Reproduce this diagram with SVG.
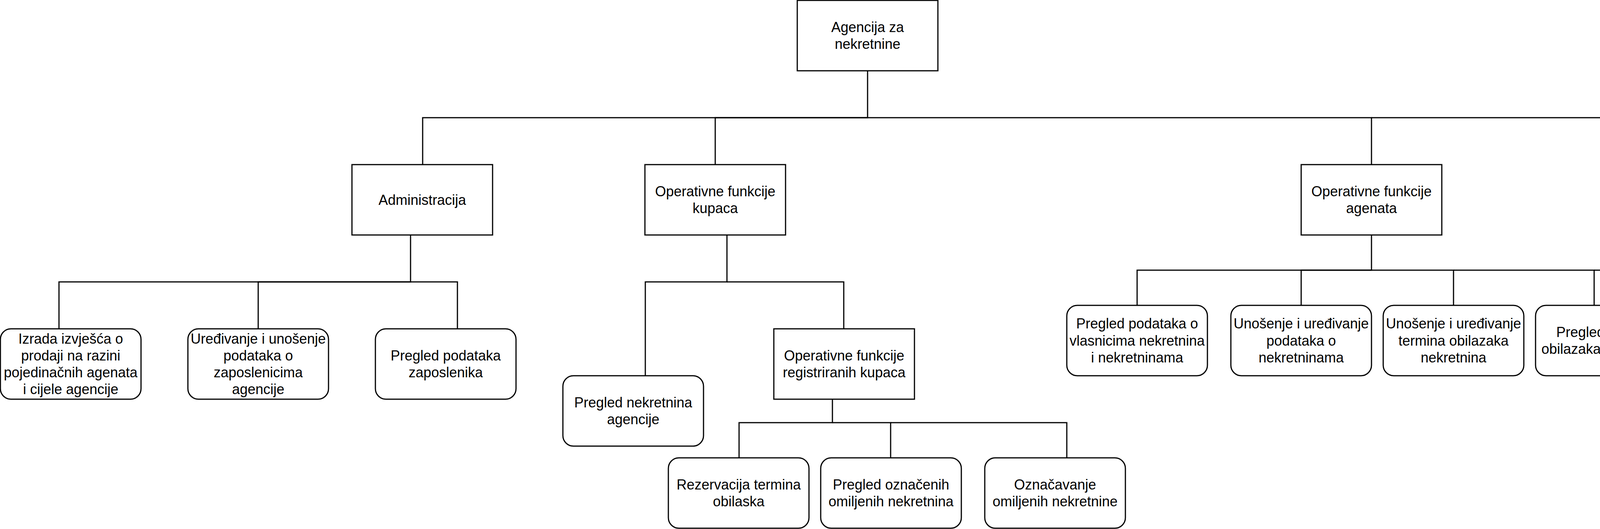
<svg xmlns="http://www.w3.org/2000/svg" width="6003" height="1353" viewBox="0 0 6003 1353">
<style>
.n{fill:#fff;stroke:#000;stroke-width:3}
.t{font-family:"Liberation Sans",Arial,Helvetica,sans-serif;font-size:36px;fill:#000;text-anchor:middle}
.e{fill:none;stroke:#000;stroke-width:3;stroke-linejoin:miter}
</style>
<rect x="0" y="0" width="6003" height="1353" fill="#fff"/>
<g id="connectors">
<path class="e" d="M2221 181V301H1082V421"/>
<path class="e" d="M2221 301H1831V421"/>
<path class="e" d="M2221 301H3511V421"/>
<path class="e" d="M3511 301H5401V421"/>
<path class="e" d="M1051 601V721H151V841"/>
<path class="e" d="M1051 721H661V841"/>
<path class="e" d="M1051 721H1171V841"/>
<path class="e" d="M1861 601V721H1652V961"/>
<path class="e" d="M1861 721H2160V841"/>
<path class="e" d="M2131 1021V1081H1892V1171"/>
<path class="e" d="M2131 1081H2280V1171"/>
<path class="e" d="M2280 1081H2731V1171"/>
<path class="e" d="M3511 601V691H2911V781"/>
<path class="e" d="M3511 691H3331V781"/>
<path class="e" d="M3511 691H3721V781"/>
<path class="e" d="M3721 691H4081V781"/>
<path class="e" d="M4081 691H4531V781"/>
<path class="e" d="M5401 601V691H5071V781"/>
<path class="e" d="M5401 691H5821V781"/>
</g>
<g id="root"><rect class="n" x="2041" y="1" width="360" height="180"/><text class="t" y="81.9"><tspan x="2221">Agencija za</tspan><tspan x="2221" dy="43.2">nekretnine</tspan></text></g>
<g id="admin"><rect class="n" x="901" y="421" width="360" height="180"/><text class="t" x="1081" y="523.5">Administracija</text></g>
<g id="kupci"><rect class="n" x="1651" y="421" width="360" height="180"/><text class="t" y="501.9"><tspan x="1831">Operativne funkcije</tspan><tspan x="1831" dy="43.2">kupaca</tspan></text></g>
<g id="agenti"><rect class="n" x="3331" y="421" width="360" height="180"/><text class="t" y="501.9"><tspan x="3511">Operativne funkcije</tspan><tspan x="3511" dy="43.2">agenata</tspan></text></g>
<g id="vlasnici"><rect class="n" x="5221" y="421" width="360" height="180"/><text class="t" y="501.9"><tspan x="5401">Operativne funkcije</tspan><tspan x="5401" dy="43.2">vlasnika</tspan></text></g>
<g id="izrada"><rect class="n" x="1" y="841" width="360" height="180" rx="27"/><text class="t" y="878.7"><tspan x="181">Izrada izvješća o</tspan><tspan x="181" dy="43.2">prodaji na razini</tspan><tspan x="181" dy="43.2">pojedinačnih agenata</tspan><tspan x="181" dy="43.2">i cijele agencije</tspan></text></g>
<g id="uredivanje-zaposlenici"><rect class="n" x="481" y="841" width="360" height="180" rx="27"/><text class="t" y="878.7"><tspan x="661">Uređivanje i unošenje</tspan><tspan x="661" dy="43.2">podataka o</tspan><tspan x="661" dy="43.2">zaposlenicima</tspan><tspan x="661" dy="43.2">agencije</tspan></text></g>
<g id="pregled-zaposlenika"><rect class="n" x="961" y="841" width="360" height="180" rx="27"/><text class="t" y="921.9"><tspan x="1141">Pregled podataka</tspan><tspan x="1141" dy="43.2">zaposlenika</tspan></text></g>
<g id="pregled-nekretnina-agencije"><rect class="n" x="1441" y="961" width="360" height="180" rx="27"/><text class="t" y="1041.9"><tspan x="1621">Pregled nekretnina</tspan><tspan x="1621" dy="43.2">agencije</tspan></text></g>
<g id="registrirani"><rect class="n" x="1981" y="841" width="360" height="180"/><text class="t" y="921.9"><tspan x="2161">Operativne funkcije</tspan><tspan x="2161" dy="43.2">registriranih kupaca</tspan></text></g>
<g id="rezervacija"><rect class="n" x="1711" y="1171" width="360" height="180" rx="27"/><text class="t" y="1251.9"><tspan x="1891">Rezervacija termina</tspan><tspan x="1891" dy="43.2">obilaska</tspan></text></g>
<g id="pregled-oznacenih"><rect class="n" x="2101" y="1171" width="360" height="180" rx="27"/><text class="t" y="1251.9"><tspan x="2281">Pregled označenih</tspan><tspan x="2281" dy="43.2">omiljenih nekretnina</tspan></text></g>
<g id="oznacavanje"><rect class="n" x="2521" y="1171" width="360" height="180" rx="27"/><text class="t" y="1251.9"><tspan x="2701">Označavanje</tspan><tspan x="2701" dy="43.2">omiljenih nekretnine</tspan></text></g>
<g id="pregled-vlasnika"><rect class="n" x="2731" y="781" width="360" height="180" rx="27"/><text class="t" y="840.3"><tspan x="2911">Pregled podataka o</tspan><tspan x="2911" dy="43.2">vlasnicima nekretnina</tspan><tspan x="2911" dy="43.2">i nekretninama</tspan></text></g>
<g id="unosenje-nekretnine"><rect class="n" x="3151" y="781" width="360" height="180" rx="27"/><text class="t" y="840.3"><tspan x="3331">Unošenje i uređivanje</tspan><tspan x="3331" dy="43.2">podataka o</tspan><tspan x="3331" dy="43.2">nekretninama</tspan></text></g>
<g id="unosenje-termina"><rect class="n" x="3541" y="781" width="360" height="180" rx="27"/><text class="t" y="840.3"><tspan x="3721">Unošenje i uređivanje</tspan><tspan x="3721" dy="43.2">termina obilazaka</tspan><tspan x="3721" dy="43.2">nekretnina</tspan></text></g>
<g id="pregled-termina"><rect class="n" x="3931" y="781" width="360" height="180" rx="27"/><text class="t" y="861.9"><tspan x="4111">Pregled termina</tspan><tspan x="4111" dy="43.2">obilazaka nekretnina</tspan></text></g>
<g id="konfiguriranje"><rect class="n" x="4351" y="781" width="360" height="180" rx="27"/><text class="t" y="818.7"><tspan x="4531">Konfiguriranje</tspan><tspan x="4531" dy="43.2">sustava obavijesti za</tspan><tspan x="4531" dy="43.2">termine obilazaka</tspan><tspan x="4531" dy="43.2">nekretnina</tspan></text></g>
<g id="posjedovane"><rect class="n" x="4891" y="781" width="360" height="180" rx="27"/><text class="t" y="861.9"><tspan x="5071">Pregled posjedovanih</tspan><tspan x="5071" dy="43.2">nekretnina</tspan></text></g>
<g id="nekretnine-kupci"><rect class="n" x="5641" y="781" width="360" height="180" rx="27"/><text class="t" y="861.9"><tspan x="5821">Pregled nekretnine i</tspan><tspan x="5821" dy="43.2">kupaca nekretnine</tspan></text></g>
</svg>
